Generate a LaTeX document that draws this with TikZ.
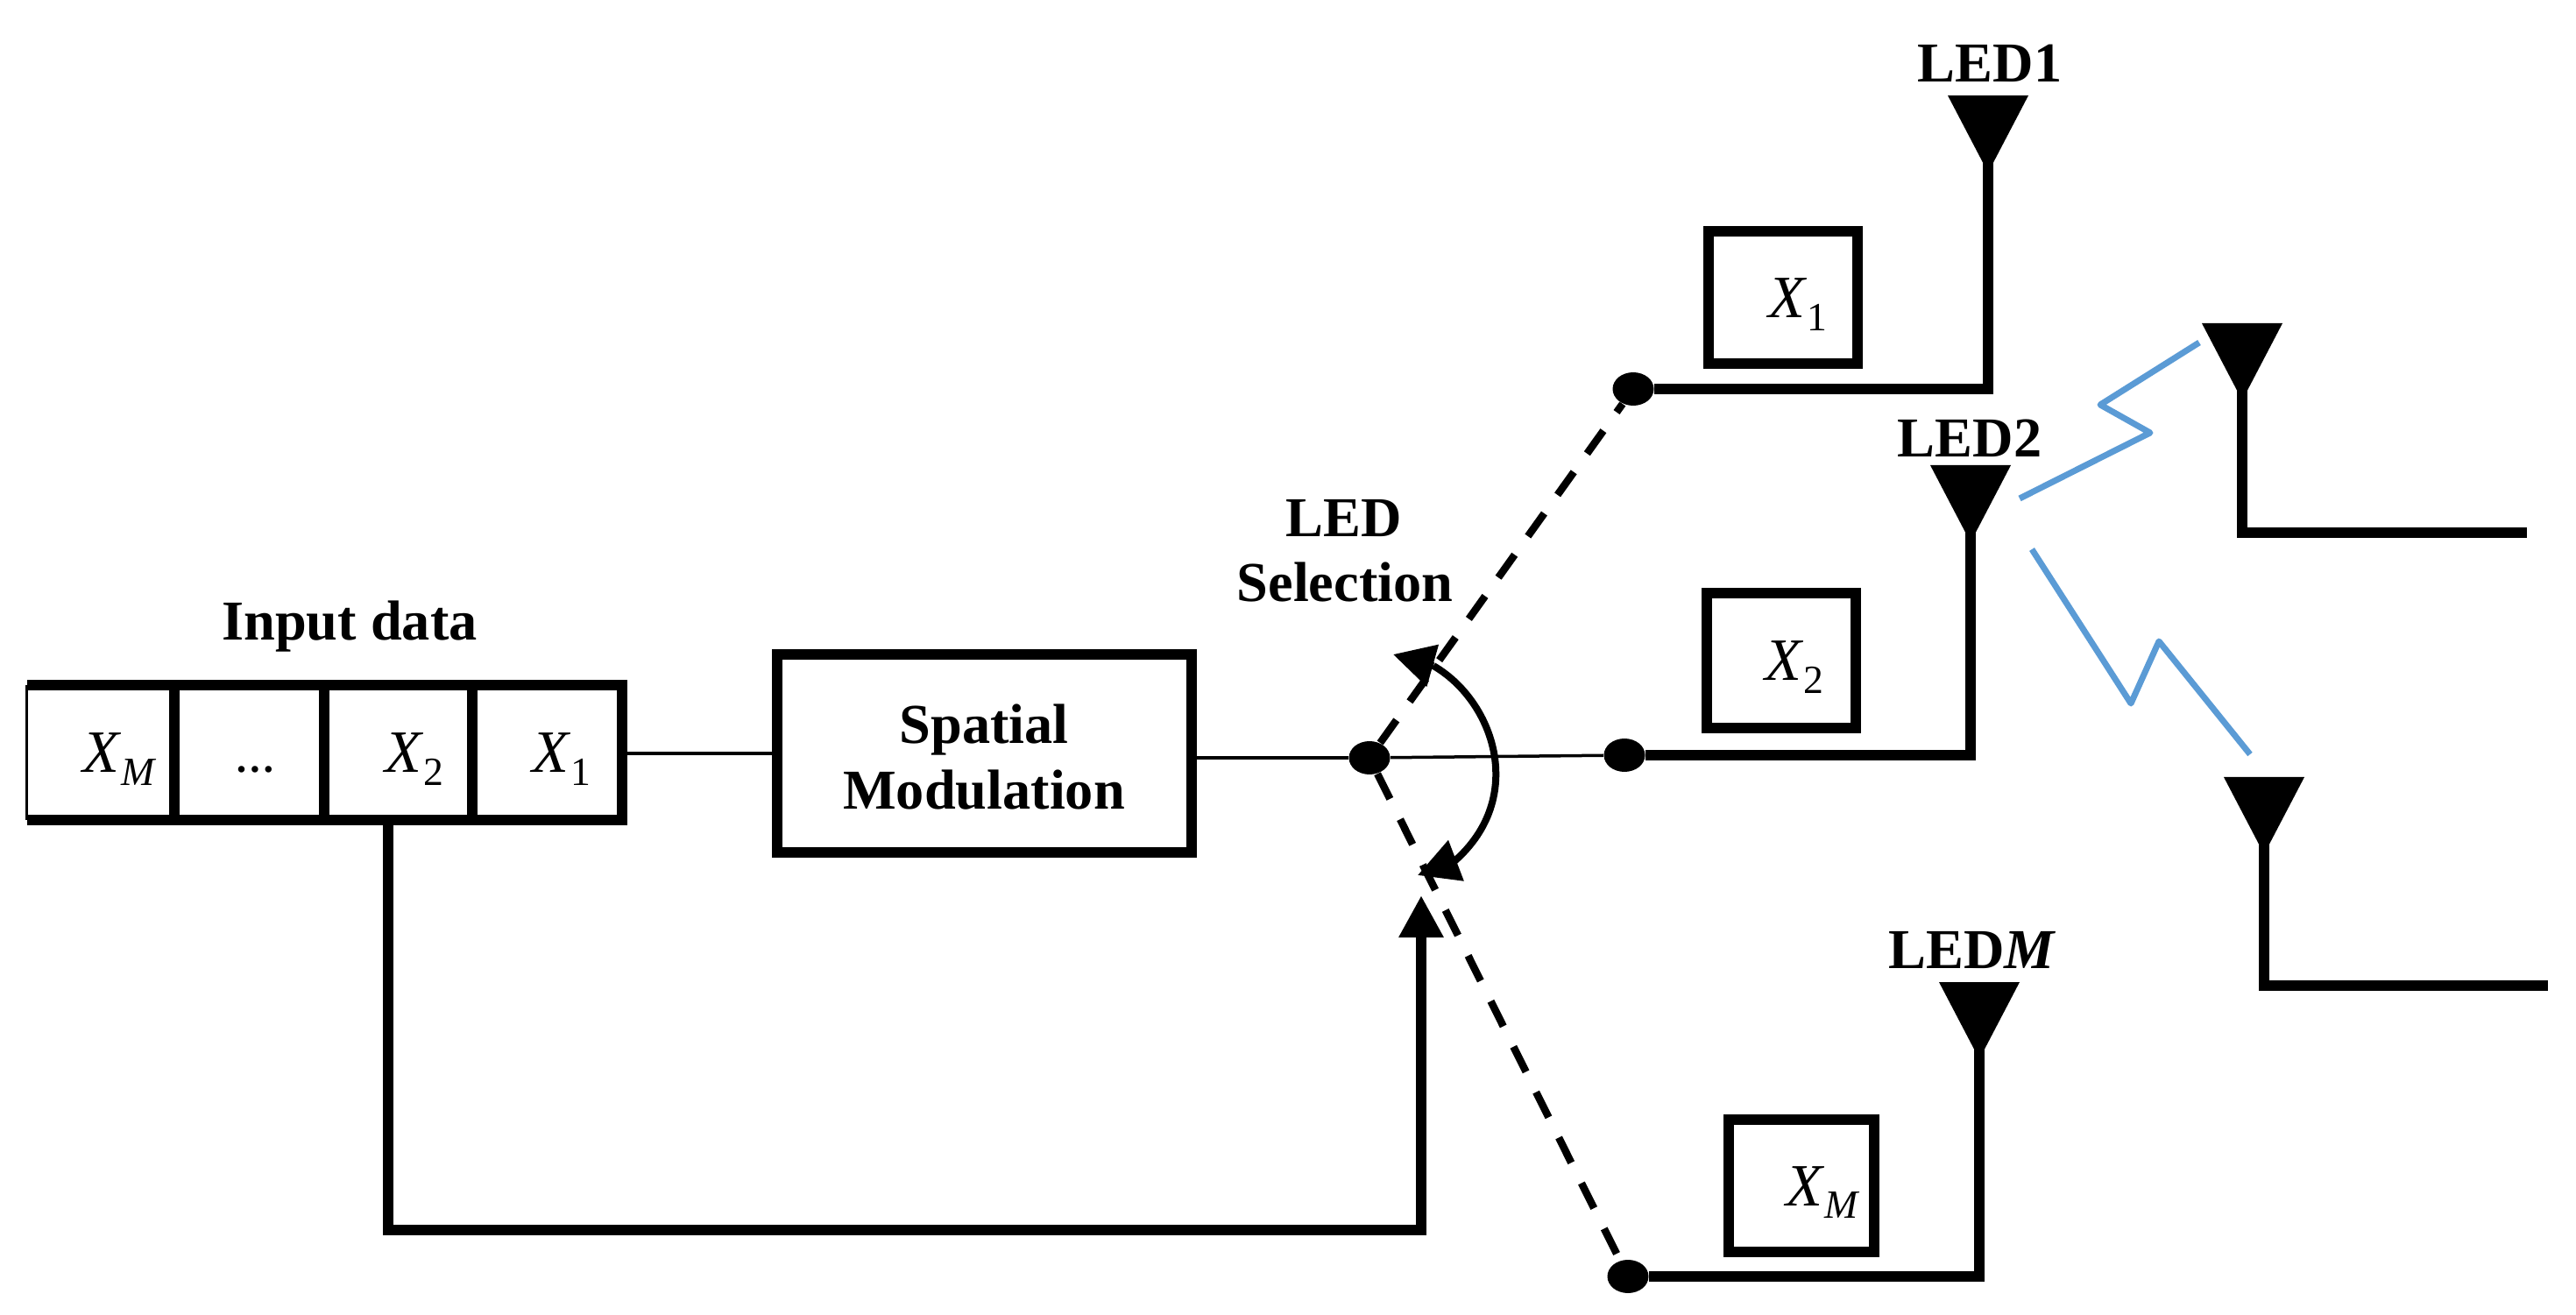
\documentclass[tikz,border=0pt]{standalone}
\usepackage{fontspec}
\setmainfont{Liberation Serif}
\usetikzlibrary{arrows.meta,shapes.geometric}
\newcommand{\Xs}[1]{\textit{X}\raisebox{-4pt}{\fontsize{13}{13}\selectfont #1}}
\tikzset{
	bus/.style={line width=.12cm,draw=black},
	thin wire/.style={line width=.035cm,draw=black},
	switch/.style={line width=.085cm,draw=black,dash pattern=on .32cm off .26cm},
	radio/.style={line width=.07cm,draw=radioblue,line join=round},
	pick/.style={line width=.08cm,-{Triangle[length=.47cm,width=.48cm]}},
	cell/.style={draw,line width=.12cm,outer sep=0pt,minimum height=1.54cm,inner sep=0pt,text height=.46cm,text depth=0pt,font=\fontsize{19.5}{20}\selectfont},
	frame/.style={draw,line width=.12cm,inner sep=0pt,text height=.46cm,text depth=0pt,font=\fontsize{19.5}{20}\selectfont},
	dot/.style={ellipse,fill=black,minimum width=.47cm,minimum height=.38cm,inner sep=0pt},
	title/.style={font=\bfseries\fontsize{18.3}{21.5}\selectfont,anchor=base,inner sep=0pt}
}
\definecolor{radioblue}{HTML}{5B9BD5}
\begin{document}
\begin{tikzpicture}
	\useasboundingbox (0,0) rectangle (29.4,15);
	% input register
	\node[cell,draw=none,minimum width=1.68cm] (xm) at (1.15,6.41) {\hspace{.44cm}\Xs{\textit{M}}};
	\node[cell,minimum width=1.71cm] (xd) at (2.845,6.41) {\hspace{.14cm}\bfseries\fontsize{13}{13}\selectfont …};
	\node[cell,minimum width=1.69cm] (x2) at (4.545,6.41) {\hspace{.36cm}\Xs{2}};
	\node[cell,minimum width=1.71cm] (x1) at (6.245,6.41) {\hspace{.32cm}\Xs{1}};
	\draw[bus] (xm.north east) -- (xm.north west);
	\draw[bus] (xm.south east) -- (xm.south west);
	\draw[line width=.03cm] (xm.north west) -- (xm.south west);
	\node[title] (input) at (3.99,7.69) {Input data};
	% modulator
	\node[draw,line width=.12cm,minimum width=4.73cm,minimum height=2.26cm,inner sep=0pt,font=\bfseries\fontsize{18.3}{21.5}\selectfont,align=center] (mod) at (11.23,6.4) {\rule{0pt}{15pt}Spatial\\Modulation};
	% switch
	\node[dot] (dc) at (15.63,6.35) {};
	\node[dot] (d1) at (18.64,10.56) {};
	\node[dot] (d2) at (18.54,6.38) {};
	\node[dot] (dm) at (18.58,.43) {};
	\draw[thin wire] (x1.east |- mod.west) -- (mod.west);
	\draw[thin wire] (mod.east |- dc.west) -- (dc);
	\draw[thin wire] (dc) -- (d2);
	\draw[switch] (dc) -- (d1);
	\draw[switch] (dc) -- (dm);
	\coordinate (top) at (16.36,7.40);
	\coordinate (low) at (16.60,5.17);
	\draw[line width=.08cm] (top) .. controls (17.05,7.0) and (17.43,5.9) .. (low);
	\coordinate (toptip) at (15.90,7.53);
	\coordinate (lowtip) at (16.18,5.01);
	\draw[pick] (top) -- (toptip);
	\draw[pick] (low) -- (lowtip);
	\node[title] (sela) at (15.34,8.87) {LED};
	\node[title] (selb) at (15.35,8.13) {Selection};
	% feedback
	\coordinate (fb) at (4.43,5.64);
	\coordinate (fbend) at (16.22,4.78);
	\draw[bus,-{Triangle[length=.48cm,width=.48cm]}] (fb) -- (4.43,.96) -| (fbend);
	% antennas, named by their apex
	\coordinate (a1) at (22.69,13.03);
	\coordinate (a2) at (22.49,8.81);
	\coordinate (am) at (22.59,2.91);
	\coordinate (r1) at (25.59,10.43);
	\coordinate (r2) at (25.84,5.25);
	\foreach \a in {a1,a2,am,r1,r2}
		\fill (\a) -- ++(-.46,.88) -- ++(.92,0) -- cycle;
	\draw[bus] (d1) -| ([yshift=.2cm]a1);
	\draw[bus] (d2) -| ([yshift=.2cm]a2);
	\draw[bus] (dm) -| ([yshift=.2cm]am);
	\coordinate (r1end) at (28.84,8.92);
	\coordinate (r2end) at (29.08,3.75);
	\draw[bus] ([yshift=.2cm]r1) |- (r1end);
	\draw[bus] ([yshift=.2cm]r2) |- (r2end);
	\node[title] (led1) at (22.71,14.06) {LED1};
	\node[title] (led2) at (22.48,9.78) {LED2};
	\node[title] (ledm) at (22.51,3.95) {LED\textit{M}};
	% symbols on the branches
	\node[frame,minimum width=1.70cm,minimum height=1.51cm] (b1) at (20.35,11.6) {\hspace{.34cm}\Xs{1}};
	\node[frame,minimum width=1.70cm,minimum height=1.54cm] (b2) at (20.325,7.46) {\hspace{.3cm}\Xs{2}};
	\node[frame,minimum width=1.66cm,minimum height=1.51cm] (bm) at (20.56,1.47) {\hspace{.5cm}\Xs{\textit{M}}};
	% radio links
	\coordinate (z1) at (23.05,9.31);
	\coordinate (z2) at (25.10,11.09);
	\coordinate (z3) at (23.19,8.73);
	\coordinate (z4) at (25.68,6.39);
	\draw[radio] (z1) -- (24.54,10.06) -- (23.97,10.38) -- (z2);
	\draw[radio] (z3) -- (24.32,6.97) -- (24.64,7.68) -- (z4);
\end{tikzpicture}
\end{document}
